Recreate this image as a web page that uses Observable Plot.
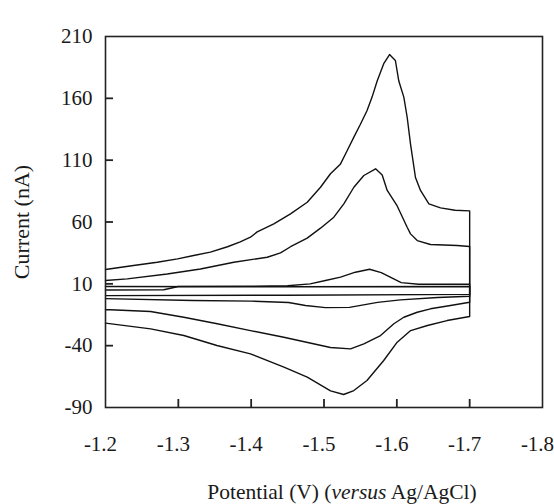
<!DOCTYPE html>
<html>
<head>
<meta charset="utf-8">
<script src="https://cdn.jsdelivr.net/npm/d3@7"></script>
<script src="https://cdn.jsdelivr.net/npm/@observablehq/plot@0.6"></script>
<style>
  html, body { margin: 0; padding: 0; background: #ffffff; }
  #chart svg { display: block; }
</style>
</head>
<body>
<div id="chart"></div>
<script>
// ---- Axis ticks ----
const xTicks = [-1.2, -1.3, -1.4, -1.5, -1.6, -1.7, -1.8];
const yTicks = [210, 160, 110, 60, 10, -40, -90];
const xInnerTicks = [-1.3, -1.4, -1.5, -1.6, -1.7];
const yInnerTicks = [160, 110, 60, 10, -40];

// ---- Curve A (largest) : forward sweep (upper branch) ----
const aFwdE = [-1.200, -1.2385, -1.271, -1.299, -1.321, -1.344, -1.3675, -1.385, -1.399, -1.4083, -1.4311, -1.454, -1.477, -1.4952, -1.5089, -1.5227, -1.5319, -1.541, -1.550, -1.559, -1.566, -1.573, -1.582, -1.590, -1.598, -1.6027, -1.6096, -1.6142, -1.6188, -1.6256, -1.6325, -1.644, -1.660, -1.680, -1.700];
const aFwdI = [21.6, 24.8, 27.5, 30.2, 32.9, 35.6, 40, 44, 47.7, 52, 58.5, 66.6, 76, 88.1, 99, 107, 117.8, 128.6, 139, 150, 161, 174, 188, 195.4, 190.6, 174, 161, 144.7, 123, 96, 85.5, 74.7, 71.4, 69.5, 69];
// reverse sweep (lower branch)
const aRevE = [-1.700, -1.669, -1.642, -1.619, -1.6005, -1.582, -1.559, -1.541, -1.527, -1.509, -1.477, -1.445, -1.399, -1.353, -1.3075, -1.262, -1.200];
const aRevI = [-16.4, -19.7, -23.7, -27.8, -37.2, -52, -68.2, -76.3, -79.5, -76.5, -65.5, -57.4, -46.6, -39.9, -31.8, -26.4, -21.8];

// ---- Curve B (medium) ----
const bFwdE = [-1.200, -1.2298, -1.2847, -1.3304, -1.3762, -1.422, -1.4403, -1.4541, -1.4769, -1.4952, -1.5135, -1.5272, -1.541, -1.5547, -1.5708, -1.5799, -1.5868, -1.6005, -1.6142, -1.6188, -1.628, -1.6462, -1.6828, -1.700];
const bFwdI = [12.7, 14, 18, 22, 27.5, 31.5, 35, 40, 47, 55, 63.9, 74.7, 88.1, 97.6, 103, 98, 85.5, 73, 55.8, 50.4, 45, 41.8, 41, 40.2];
const bRevE = [-1.700, -1.6737, -1.6462, -1.628, -1.6096, -1.5959, -1.5776, -1.5547, -1.5364, -1.5089, -1.4448, -1.3991, -1.3534, -1.3075, -1.2618, -1.2069, -1.200];
const bRevI = [-4.9, -7.5, -10.2, -13, -17, -22.3, -31.8, -38.5, -42.6, -41.5, -33.2, -27.8, -22.3, -17, -12.4, -11, -11];

// ---- Curve C (small) ----
const cFwdE = [-1.200, -1.280, -1.300, -1.400, -1.450, -1.481, -1.502, -1.5227, -1.5431, -1.5626, -1.5786, -1.5923, -1.606, -1.630, -1.700];
const cFwdI = [5, 5.2, 7.8, 8, 8.5, 10, 12.7, 15.4, 19.4, 21.8, 19.1, 15, 11, 9.7, 9.7];
const cRevE = [-1.700, -1.656, -1.605, -1.5735, -1.535, -1.502, -1.4746, -1.4513, -1.400, -1.320, -1.200];
const cRevI = [0, -1, -3, -5, -9, -9.2, -7.5, -5.1, -4, -3.5, -2];

// ---- Blank ----
const blankFwdE = [-1.200, -1.450, -1.700];
const blankFwdI = [7.8, 7.6, 7.8];
const blankRevE = [-1.700, -1.450, -1.200];
const blankRevI = [1.5, 0.8, 0.5];

const rows = [];
function addCurve(name, fE, fI, rE, rI) {
  fE.forEach((e, i) => rows.push({curve: name, E: e, I: fI[i]}));
  rE.forEach((e, i) => rows.push({curve: name, E: e, I: rI[i]}));
}
addCurve("A", aFwdE, aFwdI, aRevE, aRevI);
addCurve("B", bFwdE, bFwdI, bRevE, bRevI);
addCurve("C", cFwdE, cFwdI, cRevE, cRevI);
addCurve("blank", blankFwdE, blankFwdI, blankRevE, blankRevI);

const W = 554, H = 504;
const mL = 105, mR = 12, mT = 36, mB = 97;
const innerW = W - mL - mR, innerH = H - mT - mB;
const tickLen = 8;

const frameColor = "#222222";
const fontFam = "'Liberation Serif', 'Times New Roman', serif";

const plot = Plot.plot({
  width: W,
  height: H,
  marginLeft: mL,
  marginRight: mR,
  marginTop: mT,
  marginBottom: mB,
  style: {fontFamily: fontFam, color: "#1a1a1a", background: "#ffffff"},
  x: {domain: [-1.2, -1.8], label: null},
  y: {domain: [-90, 210], label: null},
  marks: [
    Plot.line(rows, {x: "E", y: "I", z: "curve", stroke: "#111", strokeWidth: 1.4, curve: "linear"}),
    Plot.frame({stroke: frameColor, strokeWidth: 1.6}),
    // inward tick marks
    Plot.tickY(yInnerTicks, {y: d => d, stroke: frameColor, strokeWidth: 1.8, insetRight: innerW - tickLen}),
    Plot.tickX(xInnerTicks, {x: d => d, stroke: frameColor, strokeWidth: 1.8, insetTop: innerH - tickLen}),
    // tick labels
    Plot.axisY(yTicks, {anchor: "left", tickSize: 0, tickPadding: 13, fontSize: 21, tickFormat: d => String(d), label: null}),
    Plot.axisX(xTicks, {anchor: "bottom", tickSize: 0, tickPadding: 29, fontSize: 21, tickFormat: d => d.toFixed(1), label: null})
  ]
});

document.getElementById("chart").appendChild(plot);

// shift x tick labels slightly left as in the reference
d3.select(plot).selectAll('g[aria-label="x-axis tick label"] text').attr("dx", -5);

// Axis titles (mixed italic in x title)
const svg = d3.select(plot);
const xt = svg.append("text")
  .attr("x", 342).attr("y", 499)
  .attr("text-anchor", "middle")
  .attr("fill", "#1a1a1a")
  .style("font-family", fontFam)
  .style("font-size", "21.5px");
xt.append("tspan").text("Potential (V) (");
xt.append("tspan").attr("font-style", "italic").text("versus");
xt.append("tspan").text(" Ag/AgCl)");

svg.append("text")
  .attr("transform", "translate(21,222) rotate(-90)")
  .attr("text-anchor", "middle")
  .attr("dominant-baseline", "central")
  .attr("fill", "#1a1a1a")
  .style("font-family", fontFam)
  .style("font-size", "22px")
  .text("Current (nA)");
</script>
</body>
</html>
